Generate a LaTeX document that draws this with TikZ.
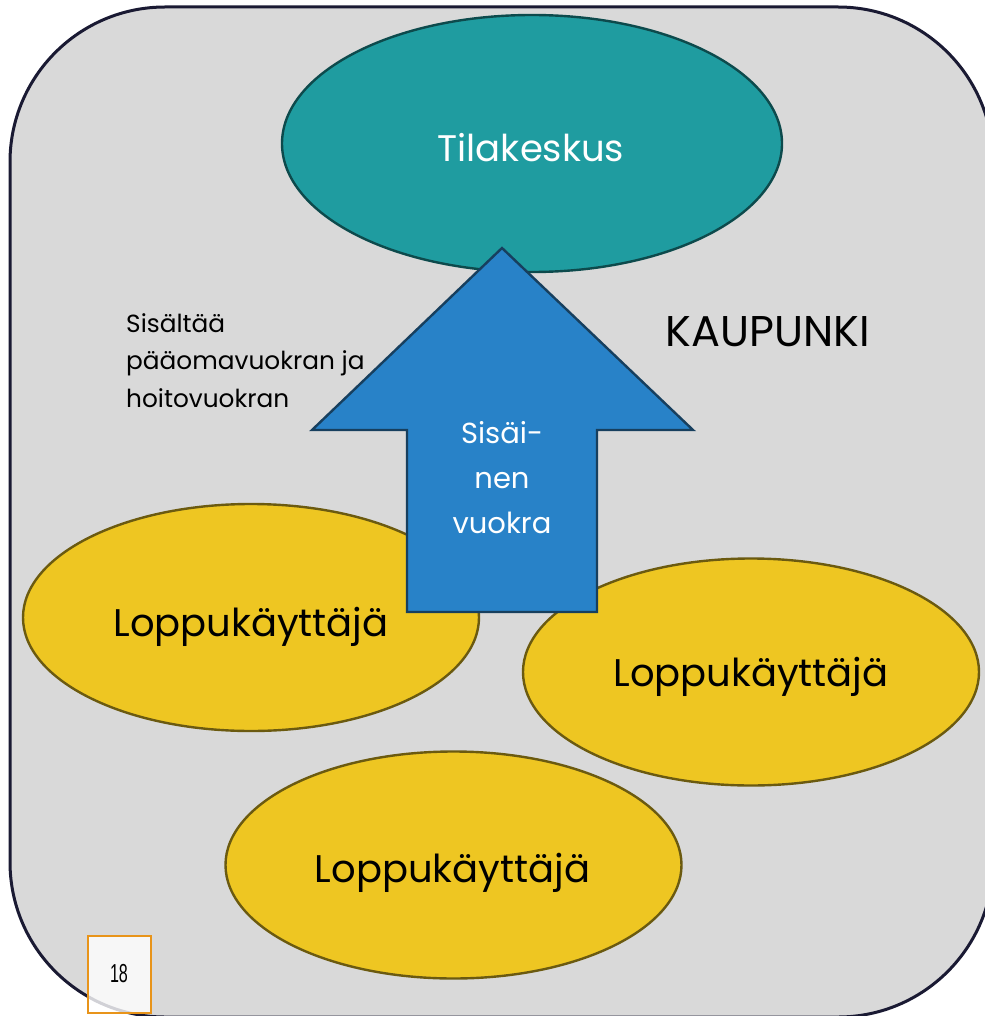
\documentclass[tikz,border=0pt]{standalone}
\usepackage{fontspec}
\setmainfont{Poppins}
\newfontfamily\pagenumfont[FakeStretch=0.62]{Liberation Sans}
\usetikzlibrary{shapes.geometric}

\definecolor{citybg}{HTML}{D9D9D9}
\definecolor{cityline}{HTML}{1A1A33}
\definecolor{hubfill}{HTML}{1F9CA0}
\definecolor{hubline}{HTML}{0D4A4C}
\definecolor{rentfill}{HTML}{2882C8}
\definecolor{rentline}{HTML}{173F5E}
\definecolor{userfill}{HTML}{EEC622}
\definecolor{userline}{HTML}{6B5A10}
\definecolor{pageline}{HTML}{E8941A}

\begin{document}
\begin{tikzpicture}[
    x=1pt, y=-1pt,
    every node/.style={inner sep=0pt},
    city/.style={draw=cityline, line width=3pt, fill=citybg, rounded corners=155pt},
    hub/.style={ellipse, draw=hubline, line width=2.4pt, fill=hubfill, minimum width=500pt, minimum height=257pt},
    user/.style={ellipse, draw=userline, line width=2.4pt, fill=userfill, minimum width=456pt, minimum height=227pt},
    rent/.style={draw=rentline, line width=2.4pt, fill=rentfill, line join=miter},
    usertext/.style={font=\fontsize{38.5}{46}\selectfont},
    pagebox/.style={draw=pageline, line width=2pt, fill=white, fill opacity=0.8, text opacity=1, minimum width=63pt, minimum height=77pt}
]
\useasboundingbox (0,0) rectangle (984,1016);
\draw[city] (10,7) rectangle (993,1017);

% ellipses
\node[hub] (hub) at (532,143.5) {};
\node[user] (userleft) at (251,617.5) {};
\node[user] (userright) at (751,672) {};
\node[user] (userbottom) at (453.5,865) {};

% internal rent arrow
\draw[rent] (502,248) -- (693,430) -- (597,430) -- (597,612) -- (407,612) -- (407,430) -- (312,430) -- cycle;

% labels
\node[font=\fontsize{37}{44}\selectfont, text=white, anchor=base] (hublabel) at (531,162) {Tilakeskus};
\node[usertext, anchor=base] (leftlabel) at (251,636) {Loppukäyttäjä};
\node[usertext, anchor=base] (rightlabel) at (751,686) {Loppukäyttäjä};
\node[usertext, anchor=base] (bottomlabel) at (452.5,882) {Loppukäyttäjä};
\node[font=\fontsize{43}{50}\selectfont, anchor=base] (citylabel) at (767.5,346) {KAUPUNKI};
\node[text=white, align=center, anchor=base, font=\fontsize{29}{45}\selectfont] (rentlabel) at (502,533) {Sisäi-\\nen\\vuokra};
\node[align=left, anchor=base west, font=\fontsize{24.8}{37.5}\selectfont] (note) at (126,407) {Sisältää\\pääomavuokran ja\\hoitovuokran};

% page number
\node[pagebox] (page) at (119,974) {};
\node[font=\pagenumfont\fontsize{26}{26}\selectfont] (pagenum) at (page.center) {18};
\end{tikzpicture}
\end{document}
